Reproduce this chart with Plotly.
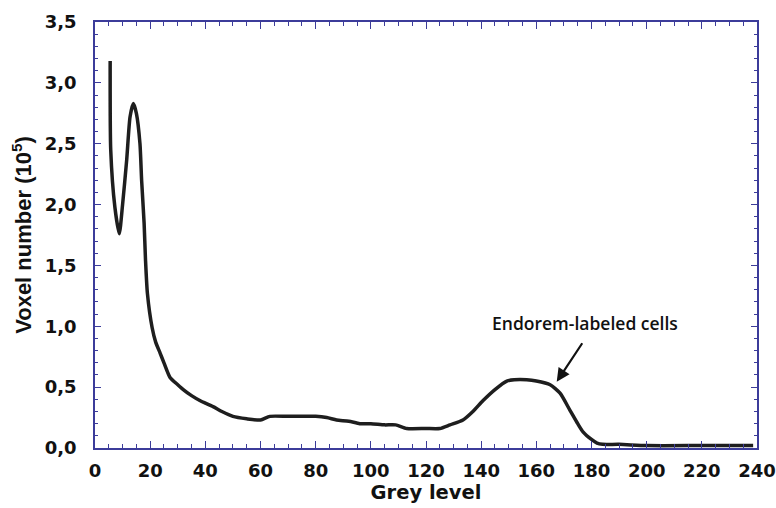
import plotly.graph_objects as go

grey_level = [5.5, 5.7, 7.2, 8.8, 10, 11.5, 12.7, 13.9, 15, 16.3, 16.9, 17.8, 18.3, 19, 20.7,
              22, 23.6, 25, 27.2, 30, 32, 35, 38, 42.8, 46, 50, 55, 60, 63.4, 70, 80, 84,
              87.6, 92, 96, 100, 105, 109, 113, 120, 125, 128.7, 133.4, 137, 140.7, 145,
              149.3, 152, 156.5, 160, 165, 168.6, 172.2, 175, 177, 180, 182, 184, 190, 200,
              220, 238.6]
voxels = [3.18, 2.45, 1.98, 1.76, 2.0, 2.37, 2.72, 2.83, 2.75, 2.5, 2.2, 1.85, 1.55, 1.27, 0.99,
          0.87, 0.78, 0.70, 0.58, 0.52, 0.48, 0.43, 0.39, 0.34, 0.30, 0.26, 0.24, 0.23, 0.26,
          0.26, 0.26, 0.25, 0.23, 0.22, 0.20, 0.20, 0.19, 0.19, 0.16, 0.16, 0.16, 0.19, 0.23,
          0.30, 0.39, 0.48, 0.55, 0.56, 0.56, 0.55, 0.52, 0.45, 0.31, 0.20, 0.13, 0.07, 0.04,
          0.03, 0.03, 0.02, 0.02, 0.02]

x_ticks = [0, 20, 40, 60, 80, 100, 120, 140, 160, 180, 200, 220, 240]
y_ticks = [0, 0.5, 1.0, 1.5, 2.0, 2.5, 3.0, 3.5]
y_tick_text = ["0,0", "0,5", "1,0", "1,5", "2,0", "2,5", "3,0", "3,5"]

annot_text = "Endorem-labeled cells"
arrow_head = (167.4, 0.545)
arrow_tail = (177, 0.873)
text_pos = (177.5, 1.03)

axis_col = "#3c3c9a"
wide_font = "DejaVu Sans, sans-serif"
narrow_font = "Liberation Sans, Arial, sans-serif"

fig = go.Figure()
fig.add_trace(go.Scatter(x=grey_level, y=voxels, mode="lines",
                         line=dict(color="#1e1e1e", width=3.5, shape="spline", smoothing=0.6),
                         showlegend=False, hoverinfo="skip"))

fig.add_annotation(x=arrow_head[0], y=arrow_head[1], ax=arrow_tail[0], ay=arrow_tail[1],
                   xref="x", yref="y", axref="x", ayref="y", text="", showarrow=True,
                   arrowhead=2, arrowsize=1.2, arrowwidth=2.2, arrowcolor="#111")
fig.add_annotation(x=text_pos[0], y=text_pos[1], xref="x", yref="y", text=annot_text,
                   showarrow=False, font=dict(family="Open Sans, sans-serif", size=17.5,
                                              color="#111", weight=600))

fig.update_layout(
    width=776, height=508,
    margin=dict(l=95, r=19, t=22, b=60),
    paper_bgcolor="white", plot_bgcolor="white",
    font=dict(family=wide_font, color="#111"),
)
fig.update_xaxes(
    range=[0, 240], tickvals=x_ticks, ticks="inside", ticklen=7, tickcolor=axis_col,
    showline=True, linecolor=axis_col, linewidth=1.5, mirror="allticks",
    showgrid=False, zeroline=False, ticklabelstandoff=6, automargin=False,
    tickfont=dict(size=18, weight="bold", family=wide_font, color="#111"),
    minor=dict(dtick=5, ticks="inside", ticklen=4, tickcolor=axis_col, showgrid=False),
    title=dict(text="Grey level", font=dict(size=19.5, weight="bold", family=wide_font), standoff=4),
)
fig.update_yaxes(
    range=[0, 3.5], tickvals=y_ticks, ticktext=y_tick_text, ticks="inside", ticklen=6,
    tickcolor=axis_col, showline=True, linecolor=axis_col, linewidth=1.5, mirror="allticks",
    showgrid=False, zeroline=False, ticklabelstandoff=13, automargin=False,
    tickfont=dict(size=18, weight="bold", family=wide_font, color="#111"),
    minor=dict(dtick=0.1, ticks="inside", ticklen=3, tickcolor=axis_col, showgrid=False),
    title=dict(text="Voxel number (10<sup>5</sup>)", font=dict(size=22, weight="bold", family=narrow_font), standoff=7),
)

fig.write_html("out.html", config={"displayModeBar": False},
               post_script="document.body.style.margin='0';document.body.style.overflow='hidden';")
